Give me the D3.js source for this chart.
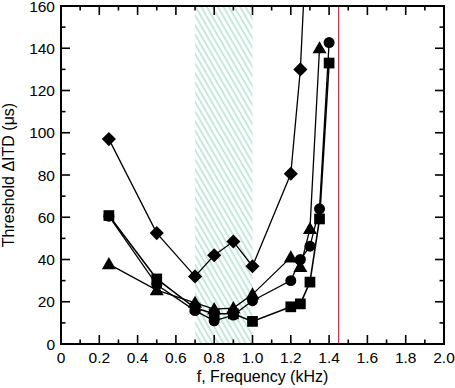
<!DOCTYPE html>
<html>
<head>
<meta charset="utf-8">
<script src="https://cdn.jsdelivr.net/npm/d3@7"></script>
<style>
  body { margin: 0; background: #fff; }
  svg { display: block; font-family: "Liberation Sans", Arial, sans-serif; }
</style>
</head>
<body>
<div id="chart"></div>
<script>
// frequencies (kHz) and thresholds (us) for each stimulus
const diamondF = [0.25, 0.5, 0.7, 0.8, 0.9, 1.0, 1.2, 1.25, 1.3];
const diamondT = [97, 52.5, 32, 42, 48.5, 36.8, 80.6, 130, 225];

const circleF = [0.25, 0.5, 0.7, 0.8, 0.9, 1.0, 1.2, 1.25, 1.3, 1.35, 1.4];
const circleT = [60.5, 28, 15.8, 11, 13.7, 20.5, 30, 40, 46.3, 64, 142.7];

const squareF = [0.25, 0.5, 0.7, 0.8, 0.9, 1.0, 1.2, 1.25, 1.3, 1.35, 1.4];
const squareT = [60.8, 30.8, 17, 14.3, 14.3, 10.7, 17.6, 19, 29.3, 59.2, 133];

const triangleF = [0.25, 0.5, 0.7, 0.8, 0.9, 1.0, 1.2, 1.25, 1.3, 1.35];
const triangleT = [37.8, 25.5, 19.5, 16.5, 17, 23.5, 41, 36.5, 54.5, 140];

const hatchRange = [0.7, 1.0];
const cutoffF = 1.45;

const xTicks = [0, 0.2, 0.4, 0.6, 0.8, 1.0, 1.2, 1.4, 1.6, 1.8, 2.0];
const yTicks = [0, 20, 40, 60, 80, 100, 120, 140, 160];

const W = 455, H = 388;
const margin = { top: 6, right: 11, bottom: 44, left: 61 };
const width = W - margin.left - margin.right;
const height = H - margin.top - margin.bottom;

const svg = d3.select("#chart").append("svg")
    .attr("width", W).attr("height", H);

const defs = svg.append("defs");
defs.append("clipPath").attr("id", "plot-clip")
    .append("rect").attr("width", width).attr("height", height);

const pat = defs.append("pattern")
    .attr("id", "hatch")
    .attr("patternUnits", "userSpaceOnUse")
    .attr("width", 4.8).attr("height", 10)
    .attr("patternTransform", "rotate(-30)");
pat.append("line")
    .attr("x1", 1).attr("y1", 0).attr("x2", 1).attr("y2", 10)
    .attr("stroke", "#7ccfae").attr("stroke-width", 0.9);

const g = svg.append("g").attr("transform", `translate(${margin.left},${margin.top})`);

const x = d3.scaleLinear().domain([0, 2]).range([0, width]);
const y = d3.scaleLinear().domain([0, 160]).range([height, 0]);

// hatched band
g.append("rect")
    .attr("x", x(hatchRange[0])).attr("y", 0)
    .attr("width", x(hatchRange[1]) - x(hatchRange[0]))
    .attr("height", height)
    .attr("fill", "url(#hatch)");

// red cutoff line
g.append("line")
    .attr("x1", x(cutoffF)).attr("x2", x(cutoffF))
    .attr("y1", 0).attr("y2", height)
    .attr("stroke", "#c8283c").attr("stroke-width", 1.2);

// ticks on all sides, pointing inward
const minorX = d3.range(0.1, 2.0, 0.2);
const minorY = d3.range(10, 160, 20);
const axes = g.append("g").attr("stroke", "#000").attr("stroke-width", 1.6);
function tickLines(vals, len, horiz) {
    vals.forEach(v => {
        if (horiz) {
            axes.append("line").attr("x1", x(v)).attr("x2", x(v)).attr("y1", height).attr("y2", height - len);
            axes.append("line").attr("x1", x(v)).attr("x2", x(v)).attr("y1", 0).attr("y2", len);
        } else {
            axes.append("line").attr("y1", y(v)).attr("y2", y(v)).attr("x1", 0).attr("x2", len);
            axes.append("line").attr("y1", y(v)).attr("y2", y(v)).attr("x1", width).attr("x2", width - len);
        }
    });
}
tickLines(xTicks.slice(1, -1), 9, true);
tickLines(minorX, 4.5, true);
tickLines(yTicks.slice(1, -1), 9, false);
tickLines(minorY, 4.5, false);

g.append("rect")
    .attr("width", width).attr("height", height)
    .attr("fill", "none").attr("stroke", "#000").attr("stroke-width", 2);

// tick labels
g.selectAll(".xl").data(xTicks).enter().append("text")
    .attr("x", d => x(d)).attr("y", height + 19)
    .attr("text-anchor", "middle").attr("font-size", 15.5)
    .text(d => d === 0 ? "0" : d.toFixed(1));
g.selectAll(".yl").data(yTicks).enter().append("text")
    .attr("x", -6).attr("y", d => y(d) + 5.5)
    .attr("text-anchor", "end").attr("font-size", 15.5)
    .text(d => d);

// axis titles
g.append("text")
    .attr("x", width / 2 + 10).attr("y", height + 38)
    .attr("text-anchor", "middle").attr("font-size", 16)
    .text("f, Frequency (kHz)");
g.append("text")
    .attr("transform", `translate(${-47},${height / 2}) rotate(-90)`)
    .attr("text-anchor", "middle").attr("font-size", 16)
    .text("Threshold ΔITD (μs)");

// wide diamond marker (d3's diamond is too narrow)
const wideDiamond = {
    draw(ctx, size) {
        const r = Math.sqrt(size / 2);
        ctx.moveTo(0, -r); ctx.lineTo(r, 0); ctx.lineTo(0, r); ctx.lineTo(-r, 0); ctx.closePath();
    }
};

// series
const series = [
    { f: diamondF, t: diamondT, sym: wideDiamond, size: 100, w: 1.3, dy: 0 },
    { f: triangleF, t: triangleT, sym: d3.symbolTriangle, size: 85, w: 1.3, dy: 1 },
    { f: circleF, t: circleT, sym: d3.symbolCircle, size: 95, w: 1.3, dy: 0 },
    { f: squareF, t: squareT, sym: d3.symbolSquare, size: 115, w: 1.6, dy: 0 }
];

const line = d3.line().x(d => x(d[0])).y(d => y(d[1]));
const plot = g.append("g").attr("clip-path", "url(#plot-clip)");

series.forEach(s => {
    const pts = s.f.map((f, i) => [f, s.t[i]]);
    plot.append("path")
        .attr("d", line(pts))
        .attr("fill", "none").attr("stroke", "#000").attr("stroke-width", s.w);
});
series.forEach(s => {
    const pts = s.f.map((f, i) => [f, s.t[i]]);
    const shape = d3.symbol().type(s.sym).size(s.size);
    plot.selectAll(null).data(pts.filter(p => p[1] <= 160)).enter().append("path")
        .attr("transform", p => `translate(${x(p[0])},${y(p[1]) + s.dy})`)
        .attr("d", shape)
        .attr("fill", "#000");
});
</script>
</body>
</html>
